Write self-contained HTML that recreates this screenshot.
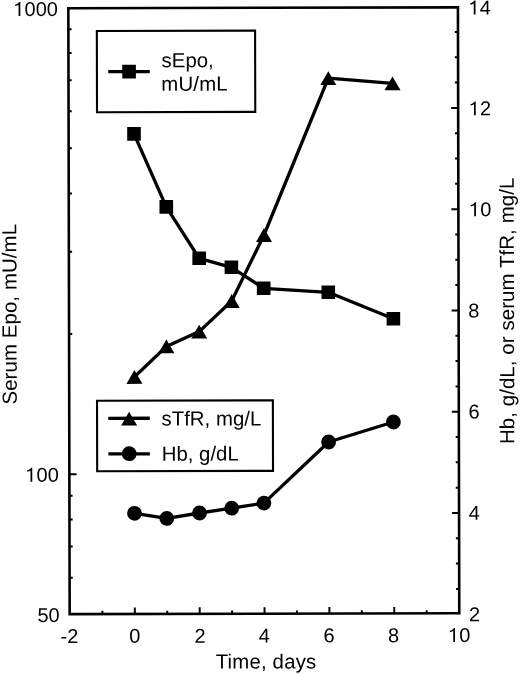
<!DOCTYPE html>
<html><head><meta charset="utf-8"><style>
html,body{margin:0;padding:0;background:#fff;overflow:hidden;}
svg{display:block;} .wrap{width:520px;height:675px;will-change:transform;}
text{font-family:"Liberation Sans",sans-serif;font-size:20px;fill:#000;}
</style></head><body>
<div class="wrap"><svg width="520" height="675" viewBox="0 0 520 675">
<g transform="rotate(-0.126 264 310)">
<rect x="69.0" y="7.75" width="389.60" height="605.95" fill="none" stroke="#000" stroke-width="2.6"/>
<line x1="101.72" y1="613.7" x2="101.72" y2="610.50" stroke="#000" stroke-width="2.0"/>
<line x1="134.15" y1="613.7" x2="134.15" y2="607.20" stroke="#000" stroke-width="2.0"/>
<line x1="166.58" y1="613.7" x2="166.58" y2="610.50" stroke="#000" stroke-width="2.0"/>
<line x1="199.01" y1="613.7" x2="199.01" y2="607.20" stroke="#000" stroke-width="2.0"/>
<line x1="231.44" y1="613.7" x2="231.44" y2="610.50" stroke="#000" stroke-width="2.0"/>
<line x1="263.87" y1="613.7" x2="263.87" y2="607.20" stroke="#000" stroke-width="2.0"/>
<line x1="296.30" y1="613.7" x2="296.30" y2="610.50" stroke="#000" stroke-width="2.0"/>
<line x1="328.73" y1="613.7" x2="328.73" y2="607.20" stroke="#000" stroke-width="2.0"/>
<line x1="361.16" y1="613.7" x2="361.16" y2="610.50" stroke="#000" stroke-width="2.0"/>
<line x1="393.59" y1="613.7" x2="393.59" y2="607.20" stroke="#000" stroke-width="2.0"/>
<line x1="426.02" y1="613.7" x2="426.02" y2="610.50" stroke="#000" stroke-width="2.0"/>
<line x1="69.0" y1="577.39" x2="72.20" y2="577.39" stroke="#000" stroke-width="2.0"/>
<line x1="69.0" y1="546.16" x2="72.20" y2="546.16" stroke="#000" stroke-width="2.0"/>
<line x1="69.0" y1="519.11" x2="72.20" y2="519.11" stroke="#000" stroke-width="2.0"/>
<line x1="69.0" y1="495.25" x2="72.20" y2="495.25" stroke="#000" stroke-width="2.0"/>
<line x1="69.0" y1="473.91" x2="76.20" y2="473.91" stroke="#000" stroke-width="2.0"/>
<line x1="69.0" y1="333.49" x2="72.20" y2="333.49" stroke="#000" stroke-width="2.0"/>
<line x1="69.0" y1="251.36" x2="72.20" y2="251.36" stroke="#000" stroke-width="2.0"/>
<line x1="69.0" y1="193.08" x2="72.20" y2="193.08" stroke="#000" stroke-width="2.0"/>
<line x1="69.0" y1="147.88" x2="72.20" y2="147.88" stroke="#000" stroke-width="2.0"/>
<line x1="69.0" y1="110.94" x2="72.20" y2="110.94" stroke="#000" stroke-width="2.0"/>
<line x1="69.0" y1="79.71" x2="72.20" y2="79.71" stroke="#000" stroke-width="2.0"/>
<line x1="69.0" y1="52.66" x2="72.20" y2="52.66" stroke="#000" stroke-width="2.0"/>
<line x1="69.0" y1="28.80" x2="72.20" y2="28.80" stroke="#000" stroke-width="2.0"/>
<line x1="458.6" y1="589.35" x2="455.40" y2="589.35" stroke="#000" stroke-width="2.0"/>
<line x1="458.6" y1="564.03" x2="455.40" y2="564.03" stroke="#000" stroke-width="2.0"/>
<line x1="458.6" y1="538.72" x2="455.40" y2="538.72" stroke="#000" stroke-width="2.0"/>
<line x1="458.6" y1="513.40" x2="451.60" y2="513.40" stroke="#000" stroke-width="2.0"/>
<line x1="458.6" y1="488.08" x2="455.40" y2="488.08" stroke="#000" stroke-width="2.0"/>
<line x1="458.6" y1="462.76" x2="455.40" y2="462.76" stroke="#000" stroke-width="2.0"/>
<line x1="458.6" y1="437.45" x2="455.40" y2="437.45" stroke="#000" stroke-width="2.0"/>
<line x1="458.6" y1="412.13" x2="451.60" y2="412.13" stroke="#000" stroke-width="2.0"/>
<line x1="458.6" y1="386.81" x2="455.40" y2="386.81" stroke="#000" stroke-width="2.0"/>
<line x1="458.6" y1="361.50" x2="455.40" y2="361.50" stroke="#000" stroke-width="2.0"/>
<line x1="458.6" y1="336.18" x2="455.40" y2="336.18" stroke="#000" stroke-width="2.0"/>
<line x1="458.6" y1="310.86" x2="451.60" y2="310.86" stroke="#000" stroke-width="2.0"/>
<line x1="458.6" y1="285.54" x2="455.40" y2="285.54" stroke="#000" stroke-width="2.0"/>
<line x1="458.6" y1="260.23" x2="455.40" y2="260.23" stroke="#000" stroke-width="2.0"/>
<line x1="458.6" y1="234.91" x2="455.40" y2="234.91" stroke="#000" stroke-width="2.0"/>
<line x1="458.6" y1="209.59" x2="451.60" y2="209.59" stroke="#000" stroke-width="2.0"/>
<line x1="458.6" y1="184.27" x2="455.40" y2="184.27" stroke="#000" stroke-width="2.0"/>
<line x1="458.6" y1="158.96" x2="455.40" y2="158.96" stroke="#000" stroke-width="2.0"/>
<line x1="458.6" y1="133.64" x2="455.40" y2="133.64" stroke="#000" stroke-width="2.0"/>
<line x1="458.6" y1="108.32" x2="451.60" y2="108.32" stroke="#000" stroke-width="2.0"/>
<line x1="458.6" y1="83.00" x2="455.40" y2="83.00" stroke="#000" stroke-width="2.0"/>
<line x1="458.6" y1="57.69" x2="455.40" y2="57.69" stroke="#000" stroke-width="2.0"/>
<line x1="458.6" y1="32.37" x2="455.40" y2="32.37" stroke="#000" stroke-width="2.0"/>
<polyline points="134.39,133.61 166.53,206.69 199.31,258.16 231.49,267.23 263.75,288.30 328.34,292.44 393.38,318.98" fill="none" stroke="#000" stroke-width="3.3" stroke-linejoin="round"/>
<polyline points="134.25,376.70 166.32,346.18 199.15,331.46 231.72,300.93 264.17,235.00 328.81,78.34 393.00,83.58" fill="none" stroke="#000" stroke-width="3.3" stroke-linejoin="round"/>
<polyline points="134.05,513.01 166.34,518.19 199.05,512.86 231.26,508.13 263.47,503.10 328.31,442.14 393.15,422.28" fill="none" stroke="#000" stroke-width="3.3" stroke-linejoin="round"/>
<rect x="127.59" y="126.81" width="13.6" height="13.6" fill="#000"/>
<rect x="159.73" y="199.89" width="13.6" height="13.6" fill="#000"/>
<rect x="192.51" y="251.36" width="13.6" height="13.6" fill="#000"/>
<rect x="224.69" y="260.43" width="13.6" height="13.6" fill="#000"/>
<rect x="256.95" y="281.50" width="13.6" height="13.6" fill="#000"/>
<rect x="321.54" y="285.64" width="13.6" height="13.6" fill="#000"/>
<rect x="386.58" y="312.18" width="13.6" height="13.6" fill="#000"/>
<polygon points="134.25,369.80 142.25,383.60 126.25,383.60" fill="#000"/>
<polygon points="166.32,339.28 174.32,353.08 158.32,353.08" fill="#000"/>
<polygon points="199.15,324.56 207.15,338.36 191.15,338.36" fill="#000"/>
<polygon points="231.72,294.03 239.72,307.83 223.72,307.83" fill="#000"/>
<polygon points="264.17,228.10 272.17,241.90 256.17,241.90" fill="#000"/>
<polygon points="328.81,71.44 336.81,85.24 320.81,85.24" fill="#000"/>
<polygon points="393.00,76.68 401.00,90.48 385.00,90.48" fill="#000"/>
<circle cx="134.05" cy="513.01" r="7.4" fill="#000"/>
<circle cx="166.34" cy="518.19" r="7.4" fill="#000"/>
<circle cx="199.05" cy="512.86" r="7.4" fill="#000"/>
<circle cx="231.26" cy="508.13" r="7.4" fill="#000"/>
<circle cx="263.47" cy="503.10" r="7.4" fill="#000"/>
<circle cx="328.31" cy="442.14" r="7.4" fill="#000"/>
<circle cx="393.15" cy="422.28" r="7.4" fill="#000"/>
<rect x="97.45" y="30.6" width="158.25" height="81.27" fill="#fff" stroke="#000" stroke-width="2.1"/>
<line x1="108.8" y1="71.3" x2="150.3" y2="71.3" stroke="#000" stroke-width="3.3"/>
<rect x="122.80" y="64.50" width="13.6" height="13.6" fill="#000"/>
<rect x="96.83" y="400.4" width="175.83" height="70.47" fill="#fff" stroke="#000" stroke-width="2.1"/>
<line x1="108.06" y1="418.0" x2="149.56" y2="418.0" stroke="#000" stroke-width="3.3"/>
<polygon points="128.90,411.50 136.90,425.30 120.90,425.30" fill="#000"/>
<line x1="108.06" y1="453.6" x2="149.56" y2="453.6" stroke="#000" stroke-width="3.3"/>
<circle cx="128.90" cy="453.40" r="7.4" fill="#000"/>
<text x="162.15" y="67" text-anchor="start" style="font-size:20.4px;letter-spacing:0px">sEpo,</text>
<text x="161.85" y="90.5" text-anchor="start" style="font-size:20.4px;letter-spacing:0.15px">mU/mL</text>
<text x="161.3" y="425.4" text-anchor="start" style="font-size:20.4px;letter-spacing:0px">sTfR, mg/L</text>
<text x="161.35" y="460.5" text-anchor="start" style="font-size:20.4px;letter-spacing:0px">Hb, g/dL</text>
<text x="59.90" y="642.5" >-2</text>
<text x="128.59" y="642.5" >0</text>
<text x="193.75" y="642.5" >2</text>
<text x="257.91" y="642.5" >4</text>
<text x="322.87" y="642.5" >6</text>
<text x="387.33" y="642.5" >8</text>
<text x="447.43" y="642.5" > 0</text>
<path transform="translate(447.43,642.5) scale(0.009766,-0.009766)" d="M704 0L524 0L524 1150Q460 1095 370 1060Q270 1025 170 1010L170 1150Q330 1190 440 1270Q550 1350 590 1430L704 1430Z"/>
<text x="265.25" y="668.5" text-anchor="middle" style="font-size:20.4px;letter-spacing:0.17px">Time, days</text>
<text x="14.11" y="15.4" > 000</text>
<path transform="translate(14.11,15.4) scale(0.009766,-0.009766)" d="M704 0L524 0L524 1150Q460 1095 370 1060Q270 1025 170 1010L170 1150Q330 1190 440 1270Q550 1350 590 1430L704 1430Z"/>
<text x="25.03" y="481.2" > 00</text>
<path transform="translate(25.03,481.2) scale(0.009766,-0.009766)" d="M704 0L524 0L524 1150Q460 1095 370 1060Q270 1025 170 1010L170 1150Q330 1190 440 1270Q550 1350 590 1430L704 1430Z"/>
<text x="36.75" y="621.5" >50</text>
<text x="468.30" y="621.67" >2</text>
<text x="468.30" y="520.3" >4</text>
<text x="468.30" y="418.83" >6</text>
<text x="468.30" y="318.06" >8</text>
<text x="469.30" y="216.79" > 0</text>
<path transform="translate(469.30,216.79) scale(0.009766,-0.009766)" d="M704 0L524 0L524 1150Q460 1095 370 1060Q270 1025 170 1010L170 1150Q330 1190 440 1270Q550 1350 590 1430L704 1430Z"/>
<text x="469.30" y="115.82" > 2</text>
<path transform="translate(469.30,115.82) scale(0.009766,-0.009766)" d="M704 0L524 0L524 1150Q460 1095 370 1060Q270 1025 170 1010L170 1150Q330 1190 440 1270Q550 1350 590 1430L704 1430Z"/>
<text x="469.30" y="14.95" > 4</text>
<path transform="translate(469.30,14.95) scale(0.009766,-0.009766)" d="M704 0L524 0L524 1150Q460 1095 370 1060Q270 1025 170 1010L170 1150Q330 1190 440 1270Q550 1350 590 1430L704 1430Z"/>
<text transform="translate(16.5,313.7) rotate(-90)" text-anchor="middle" style="font-size:20.4px;letter-spacing:0.1px">Serum Epo, mU/mL</text>
<text transform="translate(514,311.4) rotate(-90)" text-anchor="middle" style="font-size:20.4px;letter-spacing:0.1px">Hb, g/dL, or serum TfR, mg/L</text>
</g>
</svg></div>
</body></html>
